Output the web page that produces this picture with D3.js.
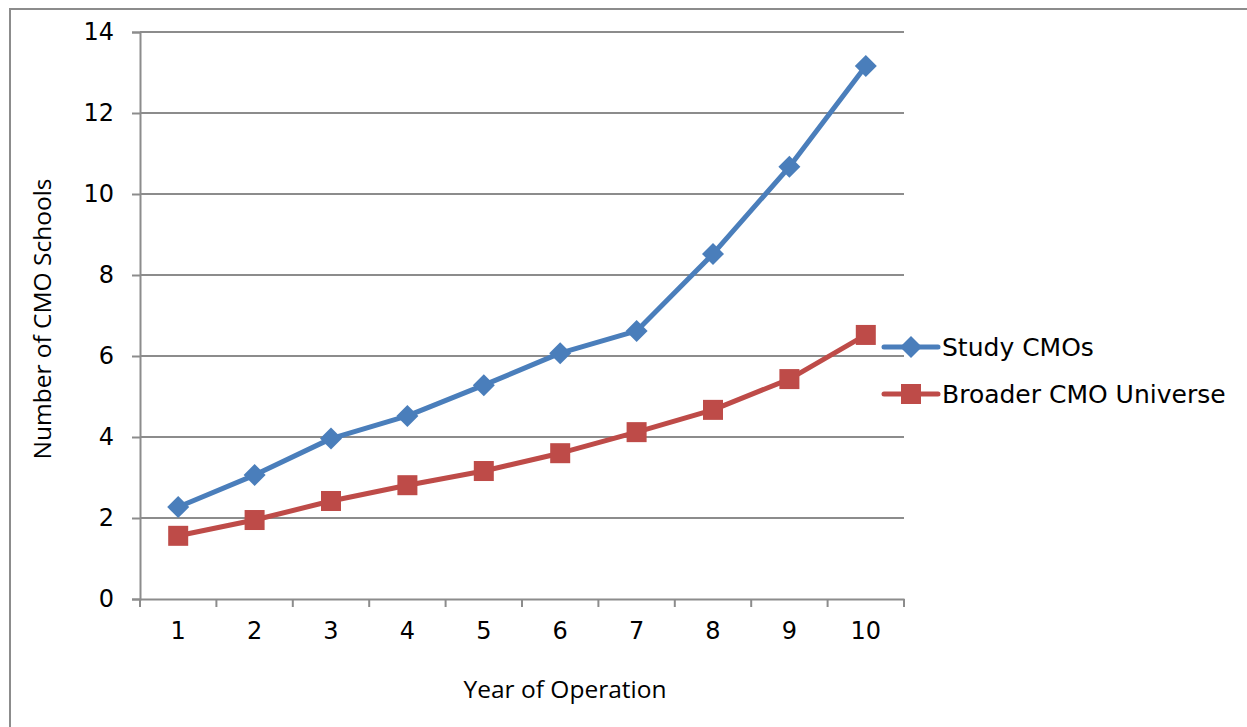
<!DOCTYPE html>
<html>
<head>
<meta charset="utf-8">
<script src="https://cdn.jsdelivr.net/npm/d3@7"></script>
<style>
  body { margin: 0; background: #fff; }
  svg { display: block; }
  .tick-label { font-family: "DejaVu Sans", sans-serif; font-size: 24px; fill: #000; }
  .axis-title { font-family: "Open Sans", "Liberation Sans", sans-serif; font-size: 24.5px; fill: #000; }
  .legend-text { font-family: "DejaVu Sans", sans-serif; font-size: 25px; fill: #000; }
</style>
</head>
<body>
<svg id="chart" width="1247" height="727"></svg>
<script>
// Données du graphique
const years = ['1', '2', '3', '4', '5', '6', '7', '8', '9', '10'];
const studyCMOs = [2.27, 3.06, 3.96, 4.52, 5.28, 6.07, 6.62, 8.52, 10.67, 13.16];
const broaderUniverse = [1.56, 1.95, 2.42, 2.81, 3.16, 3.6, 4.12, 4.67, 5.43, 6.52];
const yTicks = [0, 2, 4, 6, 8, 10, 12, 14];

const seriesList = [
  { name: 'Study CMOs', values: studyCMOs, color: '#4a7ebb', marker: 'diamond' },
  { name: 'Broader CMO Universe', values: broaderUniverse, color: '#be4b48', marker: 'square' }
];

const svg = d3.select('#chart');
const plot = { left: 140, right: 904, top: 32, bottom: 599 };
const gridColor = '#8c8c8c';

// Cadre extérieur
svg.append('rect')
  .attr('x', 10).attr('y', 9)
  .attr('width', 1260).attr('height', 740)
  .attr('fill', 'none')
  .attr('stroke', gridColor)
  .attr('stroke-width', 2);

// Échelles
const x = d3.scaleBand().domain(years).range([plot.left, plot.right]);
const y = d3.scaleLinear().domain([0, 14]).range([plot.bottom, plot.top]);

// Grille horizontale + ticks Y
const yAxis = svg.append('g')
  .attr('transform', `translate(${plot.left},0)`)
  .call(d3.axisLeft(y).tickValues(yTicks).tickSize(8).tickPadding(18).tickFormat(d3.format('d')));
yAxis.attr('font-size', null).attr('font-family', null);
yAxis.select('.domain').attr('stroke', gridColor).attr('stroke-width', 2);
yAxis.selectAll('.tick line').attr('stroke', gridColor).attr('stroke-width', 2);
yAxis.selectAll('.tick text').attr('class', 'tick-label');

svg.append('g')
  .selectAll('line')
  .data(yTicks.filter(d => d > 0))
  .join('line')
  .attr('x1', plot.left).attr('x2', plot.right)
  .attr('y1', d => y(d)).attr('y2', d => y(d))
  .attr('stroke', gridColor)
  .attr('stroke-width', 2);

// Axe X
const xAxis = svg.append('g')
  .attr('transform', `translate(0,${plot.bottom})`)
  .call(d3.axisBottom(x).tickSize(0).tickPadding(23));
xAxis.attr('font-size', null).attr('font-family', null);
xAxis.select('.domain').attr('stroke', gridColor).attr('stroke-width', 2);
xAxis.selectAll('.tick text').attr('class', 'tick-label');

// Ticks aux limites des catégories
const boundaries = years.map(d => x(d)).concat([x(years[years.length - 1]) + x.bandwidth()]);
svg.append('g')
  .selectAll('line')
  .data(boundaries)
  .join('line')
  .attr('x1', d => d).attr('x2', d => d)
  .attr('y1', plot.bottom).attr('y2', plot.bottom + 8)
  .attr('stroke', gridColor)
  .attr('stroke-width', 2);

// Titres des axes
svg.append('text')
  .attr('class', 'axis-title')
  .attr('text-anchor', 'middle')
  .attr('x', 565).attr('y', 698)
  .text('Year of Operation');

svg.append('text')
  .attr('class', 'axis-title')
  .attr('text-anchor', 'middle')
  .attr('transform', 'translate(51,319) rotate(-90)')
  .text('Number of CMO Schools');

// Marqueurs
function drawMarker(g, type, cx, cy, color) {
  if (type === 'diamond') {
    g.append('path')
      .attr('d', `M${cx},${cy - 11}L${cx + 11},${cy}L${cx},${cy + 11}L${cx - 11},${cy}Z`)
      .attr('fill', color);
  } else {
    g.append('rect')
      .attr('x', cx - 10).attr('y', cy - 10)
      .attr('width', 20).attr('height', 20)
      .attr('fill', color);
  }
}

const line = d3.line()
  .x((d, i) => x(years[i]) + x.bandwidth() / 2)
  .y(d => y(d));

seriesList.forEach(s => {
  const g = svg.append('g');
  g.append('path')
    .datum(s.values)
    .attr('d', line)
    .attr('fill', 'none')
    .attr('stroke', s.color)
    .attr('stroke-width', 5)
    .attr('stroke-linejoin', 'round');
  s.values.forEach((v, i) => {
    drawMarker(g, s.marker, x(years[i]) + x.bandwidth() / 2, y(v), s.color);
  });
});

// Légende
const legend = svg.append('g');
seriesList.forEach((s, i) => {
  const ly = 347 + i * 47;
  legend.append('line')
    .attr('x1', 884).attr('x2', 938)
    .attr('y1', ly).attr('y2', ly)
    .attr('stroke', s.color)
    .attr('stroke-width', 5)
    .attr('stroke-linecap', 'round');
  drawMarker(legend, s.marker, 911, ly, s.color);
  legend.append('text')
    .attr('class', 'legend-text')
    .attr('x', 942).attr('y', ly + 9)
    .text(s.name);
});
</script>
</body>
</html>
